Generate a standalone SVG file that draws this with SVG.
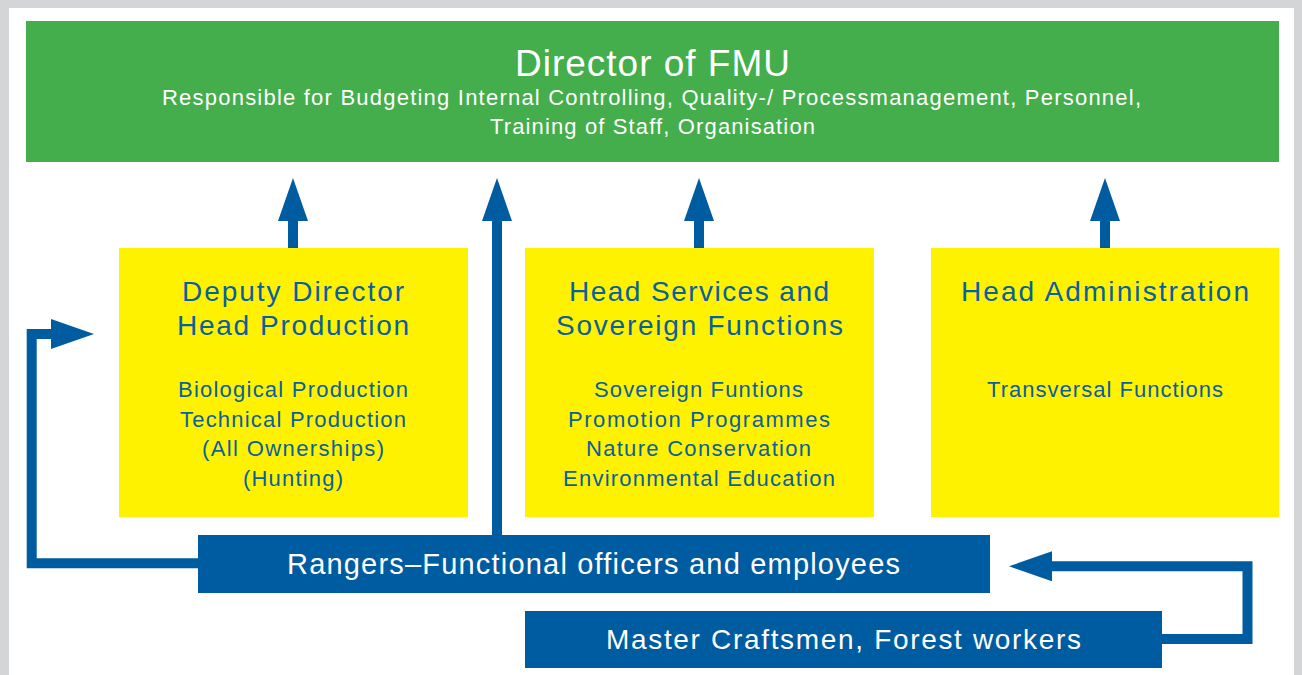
<svg xmlns="http://www.w3.org/2000/svg" width="1302" height="675" viewBox="0 0 1302 675">
  <style>
    .f { font-family: "Liberation Sans", Arial, sans-serif; }
    .white { fill: #ffffff; }
    .head { fill: #0a5fa0; font-size: 28px; text-anchor: middle; }
    .body { fill: #0a5fa0; font-size: 22px; text-anchor: middle; }
    .yellow { fill: #fff200; }
    .blue { fill: #005ca0; }
    .conn { fill: none; stroke: #005ca0; stroke-width: 10; stroke-linejoin: miter; }
  </style>
  <defs>
    <marker id="ah" viewBox="0 0 43 30" markerUnits="userSpaceOnUse" markerWidth="43" markerHeight="30" refX="1" refY="15" orient="auto">
      <path d="M0,0 L43,15 L0,30 Z" fill="#005ca0"/>
    </marker>
  </defs>
  <rect x="0" y="0" width="1302" height="675" fill="#d4d5d7"/>
  <rect x="9" y="8" width="1285" height="667" fill="#ffffff"/>

  <g id="director">
    <rect x="26" y="21" width="1253" height="141" fill="#43ae4b"/>
    <text class="f white" x="652.5" y="76" font-size="37" text-anchor="middle" textLength="275" lengthAdjust="spacing">Director of FMU</text>
    <text class="f white" x="651.5" y="104.5" font-size="22" text-anchor="middle" textLength="979" lengthAdjust="spacing">Responsible for Budgeting Internal Controlling, Quality-/ Processmanagement, Personnel,</text>
    <text class="f white" x="652.5" y="133.5" font-size="22" text-anchor="middle" textLength="325" lengthAdjust="spacing">Training of Staff, Organisation</text>
  </g>

  <g id="deputy">
    <rect class="yellow" x="119" y="248" width="349" height="269"/>
    <text class="f head" x="293" y="301" textLength="222" lengthAdjust="spacing">Deputy Director</text>
    <text class="f head" x="293" y="335" textLength="232" lengthAdjust="spacing">Head Production</text>
    <text class="f body" x="293" y="397" textLength="230" lengthAdjust="spacing">Biological Production</text>
    <text class="f body" x="293" y="426.5" textLength="226" lengthAdjust="spacing">Technical Production</text>
    <text class="f body" x="293" y="456" textLength="182" lengthAdjust="spacing">(All Ownerships)</text>
    <text class="f body" x="293" y="485.5" textLength="100" lengthAdjust="spacing">(Hunting)</text>
  </g>

  <g id="services">
    <rect class="yellow" x="525" y="248" width="349" height="269"/>
    <text class="f head" x="699" y="301" textLength="260" lengthAdjust="spacing">Head Services and</text>
    <text class="f head" x="699.5" y="335" textLength="287" lengthAdjust="spacing">Sovereign Functions</text>
    <text class="f body" x="698.5" y="397" textLength="209" lengthAdjust="spacing">Sovereign Funtions</text>
    <text class="f body" x="699" y="426.5" textLength="262" lengthAdjust="spacing">Promotion Programmes</text>
    <text class="f body" x="698.5" y="456" textLength="225" lengthAdjust="spacing">Nature Conservation</text>
    <text class="f body" x="699" y="485.5" textLength="272" lengthAdjust="spacing">Environmental Education</text>
  </g>

  <g id="administration">
    <rect class="yellow" x="931" y="248" width="348" height="269"/>
    <text class="f head" x="1105" y="301" textLength="288" lengthAdjust="spacing">Head Administration</text>
    <text class="f body" x="1105" y="397" textLength="236" lengthAdjust="spacing">Transversal Functions</text>
  </g>

  <g id="rangers">
    <rect class="blue" x="198" y="535" width="792" height="58"/>
    <text class="f white" x="593.5" y="573.5" font-size="29" text-anchor="middle" textLength="613" lengthAdjust="spacing">Rangers–Functional officers and employees</text>
  </g>

  <g id="craftsmen">
    <rect class="blue" x="525" y="611" width="637" height="57"/>
    <text class="f white" x="843.5" y="648.5" font-size="28" text-anchor="middle" textLength="475" lengthAdjust="spacing">Master Craftsmen, Forest workers</text>
  </g>

  <g id="connectors">
    <path class="conn" d="M293,248 V220" marker-end="url(#ah)"/>
    <path class="conn" d="M497,535 V220" marker-end="url(#ah)"/>
    <path class="conn" d="M699,248 V220" marker-end="url(#ah)"/>
    <path class="conn" d="M1105,248 V220" marker-end="url(#ah)"/>
    <path class="conn" d="M198,563.3 H31.7 V334 H52" marker-end="url(#ah)"/>
    <path class="conn" d="M1162,639 H1247.5 V566.3 H1051" marker-end="url(#ah)"/>
  </g>
</svg>
